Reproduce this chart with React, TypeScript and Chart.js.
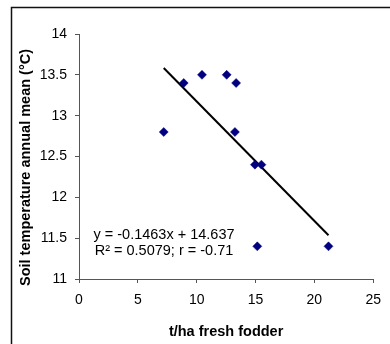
import React, { useEffect, useRef } from "react";
import { Chart, registerables } from "chart.js";

Chart.register(...registerables);

const fodderX = [7.2, 8.9, 10.45, 12.55, 13.35, 13.25, 14.95, 15.5, 15.15, 21.2];
const soilTempY = [12.8, 13.4, 13.5, 13.5, 13.4, 12.8, 12.4, 12.4, 11.4, 11.4];
const trendX = [7.2, 21.2];
const trendY = [13.584, 11.535];
const equationLines = ["y = -0.1463x + 14.637", "R\u00B2 = 0.5079; r = -0.71"];
const xTitle = "t/ha fresh fodder";
const yTitle = "Soil temperature annual mean (\u00B0C)";

const FONT = "Arial, 'Liberation Sans', sans-serif";

const decorPlugin = {
  id: "decor",
  afterDraw(chart: any) {
    const ctx = chart.ctx as CanvasRenderingContext2D;
    const area = chart.chartArea;
    ctx.save();
    // outer frame
    ctx.strokeStyle = "#111";
    ctx.lineWidth = 1.5;
    ctx.beginPath();
    ctx.moveTo(11.5, 400);
    ctx.lineTo(11.5, 7.5);
    ctx.lineTo(400, 7.5);
    ctx.stroke();

    ctx.fillStyle = "#000";
    // x title
    ctx.font = `bold 14.5px ${FONT}`;
    ctx.textAlign = "center";
    ctx.textBaseline = "middle";
    ctx.fillText(xTitle, (area.left + area.right) / 2, 332);
    // y title
    ctx.save();
    ctx.translate(26, 167.5);
    ctx.rotate(-Math.PI / 2);
    ctx.fillText(yTitle, 0, 0);
    ctx.restore();
    // equation
    ctx.font = `14.5px ${FONT}`;
    ctx.fillText(equationLines[0], 164, 235);
    ctx.fillText(equationLines[1], 164, 251);
    ctx.restore();
  },
};

export default function App() {
  const ref = useRef<HTMLCanvasElement | null>(null);
  useEffect(() => {
    if (!ref.current) return;
    const chart = new Chart(ref.current, {
      type: "scatter",
      data: {
        datasets: [
          {
            type: "scatter",
            label: "data",
            data: fodderX.map((x, i) => ({ x, y: soilTempY[i] })),
            pointStyle: "rectRot",
            pointRadius: 4.5,
            pointBackgroundColor: "#000080",
            pointBorderColor: "#000080",
            pointBorderWidth: 0.5,
          },
          {
            type: "line",
            label: "trend",
            data: trendX.map((x, i) => ({ x, y: trendY[i] })),
            borderColor: "#000",
            borderWidth: 2,
            pointRadius: 0,
            fill: false,
          } as any,
        ],
      },
      options: {
        responsive: false,
        animation: false,
        layout: { padding: { top: 34, right: 12, left: 0, bottom: 0 } },
        plugins: { legend: { display: false }, tooltip: { enabled: false } },
        scales: {
          x: {
            type: "linear",
            min: 0,
            max: 25,
            ticks: {
              stepSize: 5,
              color: "#000",
              padding: 9,
              font: { family: FONT, size: 14 },
              maxRotation: 0,
            },
            grid: { drawOnChartArea: false, drawTicks: true, tickLength: 4, color: "#555" },
            border: { color: "#555", width: 1 },
            afterFit(scale: any) {
              scale.height = 65;
            },
          },
          y: {
            type: "linear",
            min: 11,
            max: 14,
            ticks: {
              stepSize: 0.5,
              color: "#000",
              padding: 8,
              font: { family: FONT, size: 14 },
              callback: (v: any) => String(Number(Number(v).toFixed(1))),
            },
            grid: { drawOnChartArea: false, drawTicks: true, tickLength: 4, color: "#555" },
            border: { color: "#555", width: 1 },
            afterFit(scale: any) {
              scale.width = 79;
            },
          },
        },
      },
      plugins: [decorPlugin],
    });
    return () => chart.destroy();
  }, []);
  return (
    <div style={{ position: "fixed", left: 0, top: 0, width: 390, height: 344, background: "#fff" }}>
      <canvas ref={ref} width={390} height={344} style={{ display: "block" }} />
    </div>
  );
}
